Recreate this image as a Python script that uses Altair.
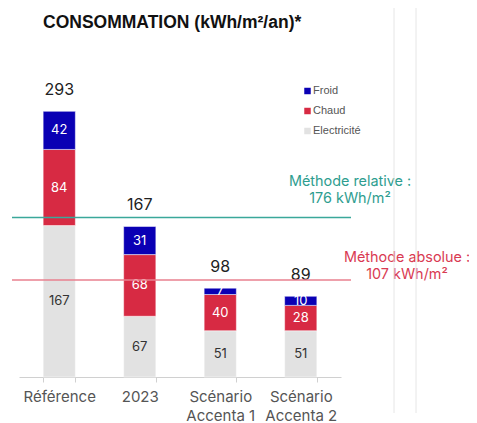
import altair as alt
import pandas as pd

categories = ["Référence", "2023", "Scénario\nAccenta 1", "Scénario\nAccenta 2"]
electricite = [167, 67, 51, 51]
chaud = [84, 68, 40, 28]
froid = [42, 31, 7, 10]
totals = [293, 167, 98, 89]
series = ["Froid", "Chaud", "Electricité"]
colors = ["#0a00b4", "#d72a43", "#e2e2e2"]
text_colors = {"Froid": "white", "Chaud": "white", "Electricité": "#333333"}
ref_values = [176, 107]
ref_labels = [["Méthode relative :", "176 kWh/m²"], ["Méthode absolue :", "107 kWh/m²"]]
ref_colors = ["#3aa89a", "#e8808f"]
ref_text_colors = ["#2e9d8f", "#d93a52"]
title_text = "CONSOMMATION (kWh/m²/an)*"

rows = []
for i, c in enumerate(categories):
    segs = [("Electricité", electricite[i]), ("Chaud", chaud[i]), ("Froid", froid[i])]
    base = 0
    for s, v in segs:
        rows.append({"cat": c, "serie": s, "v": v, "y0": base, "y1": base + v,
                     "mid": base + v / 2, "tc": text_colors[s]})
        base += v
seg_df = pd.DataFrame(rows)
tot_df = pd.DataFrame({"cat": categories, "total": totals})

W, H = 461, 369
ydom = [0, 407]

xscale = alt.Scale(domain=categories, range=[11, 333], paddingInner=0.6, paddingOuter=0.3)
yscale = alt.Scale(domain=ydom)

xaxis = alt.Axis(title=None, labelAngle=0, labelFontSize=15, labelFont="Inter",
                 labelColor="#555555", domainColor="#d0d0d0", tickColor="#d0d0d0",
                 tickSize=5, tickBand="extent", labelPadding=7, labelLineHeight=19,
                 labelExpr="split(datum.label, '\\n')")

bars = alt.Chart(seg_df).mark_bar(stroke="white", strokeWidth=0.5).encode(
    x=alt.X("cat:N", scale=xscale, axis=xaxis, sort=categories),
    y=alt.Y("y0:Q", scale=yscale, axis=None),
    y2="y1:Q",
    color=alt.Color("serie:N", scale=alt.Scale(domain=series, range=colors), legend=None),
)

seg_text = alt.Chart(seg_df).mark_text(font="Inter", fontSize=13, baseline="middle").encode(
    x=alt.X("cat:N", scale=xscale, sort=categories),
    y=alt.Y("mid:Q", scale=yscale),
    text="v:Q",
    color=alt.Color("tc:N", scale=None),
)

tot_text = alt.Chart(tot_df).mark_text(font="Inter", fontSize=16, color="#222222",
                                       baseline="middle", dy=-21).encode(
    x=alt.X("cat:N", scale=xscale, sort=categories),
    y=alt.Y("total:Q", scale=yscale),
    text="total:Q",
)

layers = [bars, seg_text, tot_text]

# reference lines and labels
ref_x_text = [342, 399]
ref_dy = [-28, -15]
for k, val in enumerate(ref_values):
    rdf = pd.DataFrame({"v": [val]})
    layers.append(alt.Chart(rdf).mark_rule(color=ref_colors[k], strokeWidth=1.5).encode(
        y=alt.Y("v:Q", scale=yscale), x=alt.value(4), x2=alt.value(343)))
    tdf = pd.DataFrame({"v": [val], "t": [ref_labels[k]]})
    layers.append(alt.Chart(tdf).mark_text(font="Inter", fontSize=14.4, color=ref_text_colors[k],
                                           align="center", baseline="bottom", lineHeight=17,
                                           dy=ref_dy[k]).encode(
        y=alt.Y("v:Q", scale=yscale), x=alt.value(ref_x_text[k]), text="t"))

# legend
for k, s in enumerate(series):
    ldf = pd.DataFrame({"s": [s]})
    layers.append(alt.Chart(ldf).mark_square(size=42, color=colors[k], opacity=1).encode(
        x=alt.value(299.5), y=alt.value(83 + 20 * k)))
    layers.append(alt.Chart(ldf).mark_text(font="Liberation Sans", fontSize=11, color="#555555",
                                           align="left", baseline="middle").encode(
        x=alt.value(305), y=alt.value(83 + 20 * k), text="s:N"))

# decorative vertical lines at right
for xv in [386, 408]:
    layers.append(alt.Chart(pd.DataFrame({"a": [0]})).mark_rule(color="#e6e6e6", strokeWidth=1).encode(
        x=alt.value(xv), y=alt.value(-2), y2=alt.value(405)))

# title
layers.append(alt.Chart(pd.DataFrame({"t": [title_text]})).mark_text(
    font="Liberation Sans", fontSize=17.5, fontWeight="bold", color="#111111",
    align="left", baseline="middle").encode(x=alt.value(35), y=alt.value(15), text="t"))

chart = alt.layer(*layers).properties(
    width=W, height=H,
    autosize=alt.AutoSizeParams(type="none"),
    padding={"left": 0, "top": 0, "right": 0, "bottom": 46},
).configure_view(stroke=None)

chart.save("out.html", embed_options={"renderer": "svg", "actions": False})
